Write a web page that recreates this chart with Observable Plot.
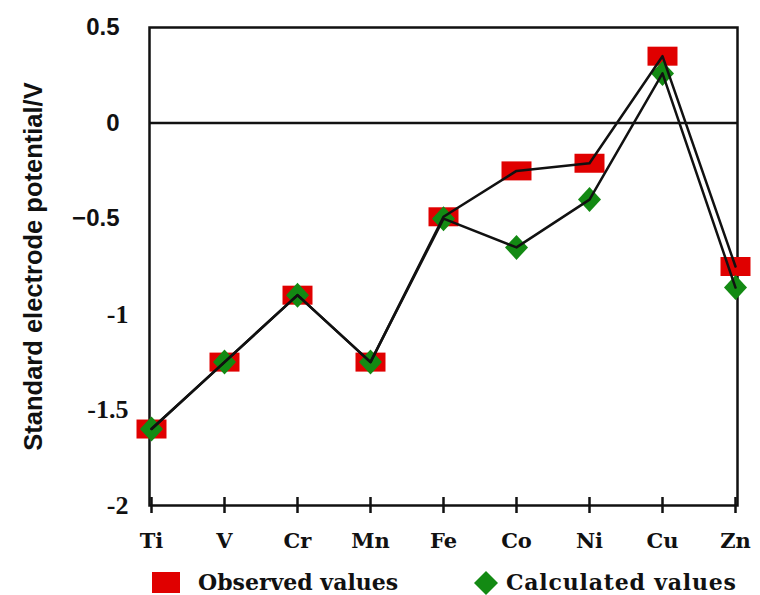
<!DOCTYPE html>
<html><head><meta charset="utf-8">
<script src="https://cdn.jsdelivr.net/npm/d3@7"></script>
<script src="https://cdn.jsdelivr.net/npm/@observablehq/plot@0.6"></script>
<style>
body{margin:0;background:#fff;}
#wrap{position:relative;width:760px;height:595px;overflow:hidden;}
.leg{position:absolute;font-family:"DejaVu Serif",serif;font-weight:bold;font-size:22px;line-height:22px;color:#111;white-space:nowrap;}
</style></head>
<body><div id="wrap"></div>
<script>
const metals = ["Ti","V","Cr","Mn","Fe","Co","Ni","Cu","Zn"];
const observed = [-1.60,-1.25,-0.90,-1.25,-0.49,-0.25,-0.21,0.35,-0.75];
const calculated = [-1.60,-1.25,-0.90,-1.25,-0.50,-0.65,-0.40,0.26,-0.86];
const yTicksTop = [0.5,0,-0.5];
const yTicksBottom = [-1,-1.5,-2];

const obsData = metals.map((m,i)=>({m, v:observed[i]}));
const calData = metals.map((m,i)=>({m, v:calculated[i]}));

const rectSymbol = {draw(ctx){ctx.rect(-15,-9.5,30,19);}};
const diamondSymbol = {draw(ctx){ctx.moveTo(0,-12.5);ctx.lineTo(11.5,0);ctx.lineTo(0,12.5);ctx.lineTo(-11.5,0);ctx.closePath();}};

const chart = Plot.plot({
  width:760, height:560,
  marginLeft:149, marginRight:23, marginTop:27, marginBottom:55,
  x:{type:"point", domain:metals, padding:0},
  y:{domain:[-2,0.5]},
  marks:[
    Plot.frame({stroke:"#111", strokeWidth:2.5}),
    Plot.ruleY([0],{stroke:"#111", strokeWidth:2.5}),
    Plot.axisX({tickSize:16, dy:-8, text:null, label:null, stroke:"#111", strokeWidth:2.5}),
    Plot.axisX({tickSize:0, tickPadding:28, label:null, fontFamily:"DejaVu Serif", fontWeight:"bold", fontSize:21, fill:"#111"}),
    Plot.axisY(yTicksTop,{tickSize:0, tickPadding:30, label:null, fontFamily:"Liberation Sans", fontWeight:"bold", fontSize:24, fill:"#111", tickFormat:d=>d===0?"0":String(d).replace("-","−")}),
    Plot.axisY(yTicksBottom,{tickSize:0, tickPadding:21, label:null, fontFamily:"Liberation Serif", fontWeight:"bold", fontSize:26, fill:"#111", tickFormat:d=>String(d)}),
    Plot.dot(obsData,{x:"m", y:"v", symbol:rectSymbol, fill:"#e00000", stroke:"none"}),
    Plot.dot(calData,{x:"m", y:"v", symbol:diamondSymbol, fill:"#138a13", stroke:"none"}),
    Plot.line(obsData,{x:"m", y:"v", stroke:"#111", strokeWidth:2.5}),
    Plot.line(calData,{x:"m", y:"v", stroke:"#111", strokeWidth:2.5}),
    Plot.text(["Standard electrode potential/V"],{frameAnchor:"left", textAnchor:"middle", dx:-116, rotate:-90, fontFamily:"Liberation Sans", fontWeight:"bold", fontSize:25.5, fill:"#111"})
  ]
});
const wrap = document.getElementById("wrap");
wrap.appendChild(chart);
const legItems = [
  {label:"Observed values", left:152, kind:"rect", spacing:0},
  {label:"Calculated values", left:474, kind:"diamond", spacing:0.8}
];
legItems.forEach(it=>{
  const sw = document.createElementNS("http://www.w3.org/2000/svg","svg");
  sw.setAttribute("width","30");sw.setAttribute("height","26");
  sw.style.position="absolute";sw.style.left=it.left+"px";sw.style.top="570px";
  sw.innerHTML = it.kind==="rect"
    ? '<rect x="0" y="2" width="28" height="21" fill="#e00000"/>'
    : '<path d="M12,1 L24,13 L12,25 L0,13Z" fill="#138a13"/>';
  wrap.appendChild(sw);
  const t = document.createElement("div");
  t.className="leg"; t.textContent=it.label;
  t.style.letterSpacing=it.spacing+"px";
  t.style.left=(it.left+(it.kind==="rect"?46:32))+"px"; t.style.top="571px";
  wrap.appendChild(t);
});
</script></body></html>
